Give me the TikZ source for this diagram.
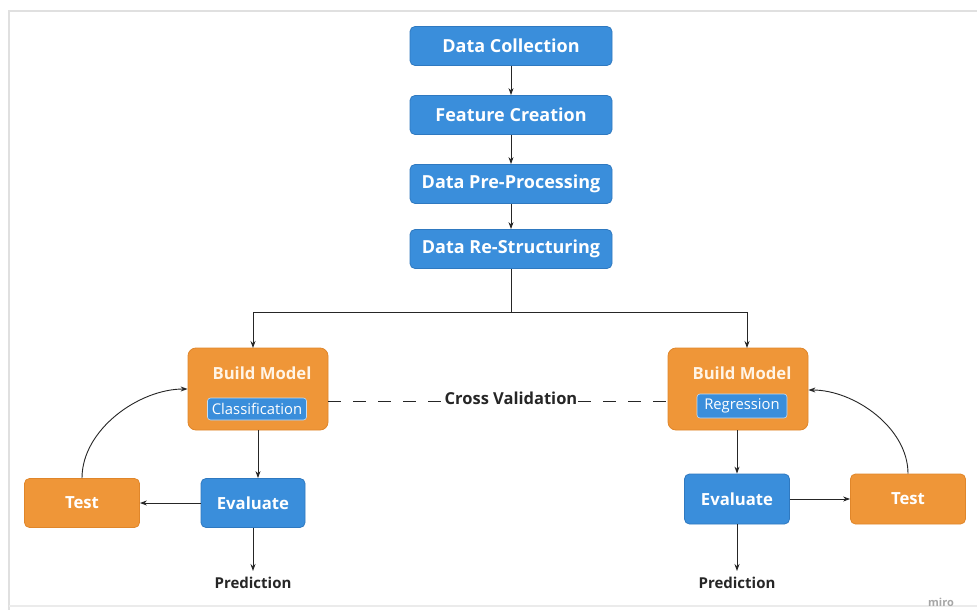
\documentclass[tikz,border=0pt]{standalone}
\usepackage{fontspec}
\setmainfont{Open Sans}
\usetikzlibrary{arrows.meta}
\definecolor{stepblue}{HTML}{3A8EDB}
\definecolor{stepblueedge}{HTML}{2F79C0}
\definecolor{modelorange}{HTML}{EF9638}
\definecolor{modeledge}{HTML}{E0862A}
\definecolor{cream}{HTML}{FFF4E6}
\tikzset{
  x=1pt, y=-1pt,
  bluebox/.style={draw=stepblueedge, fill=stepblue, rounded corners=5pt, line width=0.8pt,
    text=white, font=\bfseries\fontsize{18}{20}\selectfont, inner sep=0pt},
  smallblue/.style={bluebox, font=\bfseries\fontsize{16.7}{19}\selectfont},
  orangebox/.style={draw=modeledge, fill=modelorange, rounded corners=8pt, line width=0.8pt,
    text=white, font=\bfseries\fontsize{16.7}{19}\selectfont, inner sep=0pt},
  tagbox/.style={draw=white!70!stepblue, fill=stepblue, rounded corners=3pt, line width=0.6pt,
    text=white, font=\fontsize{14.8}{17}\selectfont, inner sep=0pt},
  flow/.style={draw=black!85, line width=0.9pt, -{Stealth[length=7pt,width=5pt]}},
  plain/.style={draw=black!85, line width=0.9pt},
  caption/.style={font=\bfseries\fontsize{15}{17}\selectfont, text=black!85},
}
\begin{document}
\begin{tikzpicture}
\useasboundingbox (0,0) rectangle (977,610);
% page frame
\fill[white] (0,0) rectangle (977,610);
\draw[black!12, line width=2pt] (9,612) -- (9,11) -- (990,11);
\draw[black!8, line width=2pt] (9,606) -- (990,606);

% pipeline steps
\node[bluebox, minimum width=202pt, minimum height=39pt] (dc) at (511,46) {Data Collection};
\node[bluebox, minimum width=202pt, minimum height=39pt] (fc) at (511,115) {Feature Creation};
\node[bluebox, minimum width=202pt, minimum height=39pt] (pp) at (511,184) {Data Pre-Processing};
\node[bluebox, minimum width=202pt, minimum height=39pt] (rs) at (511,249) {Data Re-Structuring};

\draw[flow] (dc) -- (fc);
\draw[flow] (fc) -- (pp);
\draw[flow] (pp) -- (rs);

% model boxes
\node[orangebox, minimum width=140pt, minimum height=82pt] (bml) at (258,389) {};
\node[text=cream, font=\bfseries\fontsize{16.7}{19}\selectfont] (bmlt) at (262,373) {Build Model};
\node[tagbox, minimum width=99pt, minimum height=22pt] (cls) at (257,409) {Classification};

\node[orangebox, minimum width=140pt, minimum height=82pt] (bmr) at (738,389) {};
\node[text=cream, font=\bfseries\fontsize{16.7}{19}\selectfont] (bmrt) at (742,373) {Build Model};
\node[tagbox, minimum width=90pt, minimum height=24pt] (reg) at (742,406) {Regression};

% split from the last step into both models
\coordinate (split) at (511,312);
\coordinate (splitl) at (253,312);
\coordinate (splitr) at (747,312);
\draw[plain] (rs.south) -- (split);
\draw[plain] (splitl) -- (splitr);
\draw[flow] (splitl) -- (253,348);
\draw[flow] (splitr) -- (747,348);

% cross validation link
\draw[black!85, line width=1pt, dash pattern=on 13pt off 12pt] (bml.east |- 0,401) -- (bmr.west |- 0,401);
\node[fill=white, inner xsep=1pt, font=\bfseries\fontsize{16.5}{18}\selectfont, text=black!85] (cv) at (511,398) {Cross Validation};

% evaluation and test, left branch
\node[smallblue, minimum width=104pt, minimum height=49pt] (evl) at (253,503) {Evaluate};
\node[orangebox, rounded corners=5pt, minimum width=115pt, minimum height=49pt] (tsl) at (82,503) {Test};
\node[caption] (prl) at (253,583) {Prediction};
\draw[flow] (bml.south -| 258,0) -- (evl.north -| 258,0);
\draw[flow] (evl) -- (tsl);
\draw[flow] (evl) -- (prl.north |- 0,571);
\draw[flow] (tsl.north) to[out=90, in=180, looseness=0.9] (bml.west |- 0,389);

% evaluation and test, right branch
\node[smallblue, minimum width=105pt, minimum height=50pt] (evr) at (737,499) {Evaluate};
\node[orangebox, rounded corners=5pt, minimum width=115pt, minimum height=50pt] (tsr) at (908,499) {Test};
\node[caption] (prr) at (737,583) {Prediction};
\draw[flow] (bmr.south -| 737,0) -- (evr.north -| 737,0);
\draw[flow] (evr) -- (tsr);
\draw[flow] (evr) -- (prr.north |- 0,571);
\draw[flow] (tsr.north) to[out=90, in=0, looseness=0.9] (bmr.east |- 0,390);

% watermark
\node[text=black!35, font=\bfseries\fontsize{11}{13}\selectfont, inner sep=1pt] (miro) at (941,602) {miro};
\end{tikzpicture}
\end{document}
